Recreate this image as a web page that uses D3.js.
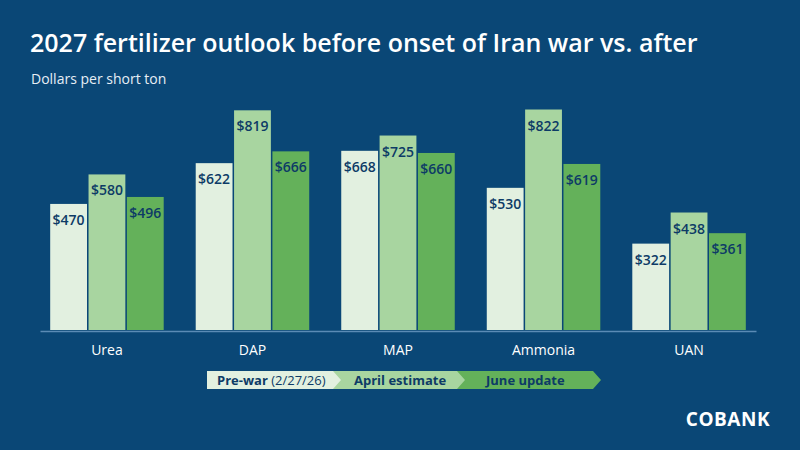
<!DOCTYPE html>
<html><head><meta charset="utf-8">
<script src="https://cdn.jsdelivr.net/npm/d3@7"></script>
<style>body{margin:0;background:#0a4776;font-family:"Open Sans",sans-serif}</style>
</head><body>
<svg id="c" width="800" height="450"></svg>
<script>
// data
const categories = ["Urea", "DAP", "MAP", "Ammonia", "UAN"];
const series = ["Pre-war", "April estimate", "June update"];
const preWar = [470, 622, 668, 530, 322];
const april = [580, 819, 725, 822, 438];
const june = [496, 666, 660, 619, 361];
const colors = ["#e2f0e0", "#a8d5a0", "#64b15a"];

const svg = d3.select("#c");
svg.append("rect").attr("width", 800).attr("height", 450).attr("fill", "#0a4776");

svg.append("text").attr("x", 30).attr("y", 52).attr("fill", "#fff")
  .attr("font-size", 25).attr("font-weight", 600).text("2027 fertilizer outlook before onset of Iran war vs. after");
svg.append("text").attr("x", 31).attr("y", 84).attr("fill", "#e6eef5")
  .attr("font-size", 14).text("Dollars per short ton");

const x = d3.scaleBand().domain(categories).range([40, 756]).paddingInner(0.22).paddingOuter(0.07);
const xs = d3.scaleBand().domain(series).range([0, x.bandwidth()]).paddingInner(0.04);
const y = d3.scaleLinear().domain([0, 850]).range([330, 102]);

const rows = categories.map((c, i) => ({ c, v: [preWar[i], april[i], june[i]] }));
const g = svg.selectAll(".grp").data(rows).enter().append("g")
  .attr("transform", d => `translate(${x(d.c)},0)`);

const bars = g.selectAll("g").data(d => d.v.map((v, j) => ({ v, s: series[j], j }))).enter().append("g");
bars.append("rect")
  .attr("x", d => xs(d.s)).attr("width", xs.bandwidth())
  .attr("y", d => y(d.v)).attr("height", d => y(0) - y(d.v))
  .attr("fill", d => colors[d.j]);
bars.append("text")
  .attr("x", d => xs(d.s) + xs.bandwidth() / 2).attr("y", d => y(d.v) + 21)
  .attr("text-anchor", "middle").attr("fill", "#0d3b66")
  .attr("font-size", 14).attr("font-weight", 600).text(d => "$" + d.v);

// axis
const ax = svg.append("g").attr("transform", "translate(0,331)")
  .call(d3.axisBottom(x).tickSize(0).tickPadding(14));
ax.select(".domain").attr("stroke", "#5b8bb5").attr("stroke-width", 1.5);
ax.selectAll("text").attr("fill", "#fff").attr("font-size", 14).attr("font-family", "Open Sans");

// legend chevrons
const leg = [
  { x0: 207, x1: 338, fill: colors[0] },
  { x0: 333, x1: 462, fill: colors[1] },
  { x0: 457, x1: 593, fill: colors[2] }
];
const ly = 371, lh = 18;
leg.forEach((l, i) => {
  const notch = i === 0 ? 0 : 8;
  svg.append("path").attr("fill", l.fill)
    .attr("d", `M${l.x0},${ly} L${l.x1},${ly} L${l.x1 + 8},${ly + lh / 2} L${l.x1},${ly + lh} L${l.x0},${ly + lh} L${l.x0 + notch},${ly + lh / 2} Z`);
});
const lt = svg.append("g").attr("font-size", 13).attr("font-weight", 700).attr("fill", "#0d3b66");
const t0 = lt.append("text").attr("x", 217).attr("y", ly + 14);
t0.append("tspan").text("Pre-war ");
t0.append("tspan").attr("font-weight", 400).text("(2/27/26)");
lt.append("text").attr("x", 354).attr("y", ly + 14).text("April estimate");
lt.append("text").attr("x", 486).attr("y", ly + 14).text("June update");

// logo
svg.append("text").attr("x", 770).attr("y", 426).attr("text-anchor", "end")
  .attr("fill", "#fff").attr("font-size", 19).attr("font-weight", 700)
  .attr("letter-spacing", 0.5).text("COBANK");
</script>
</body></html>
